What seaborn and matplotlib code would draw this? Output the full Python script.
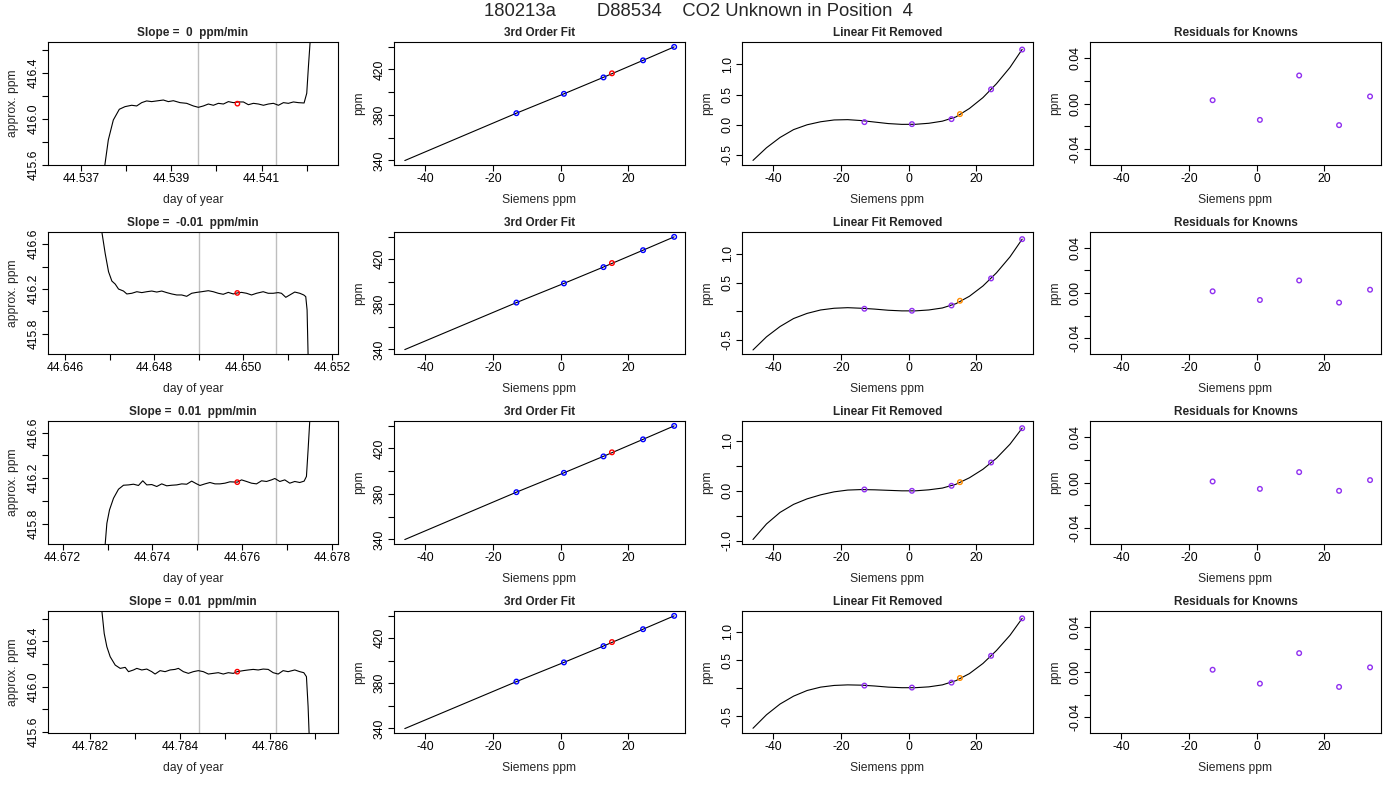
import matplotlib
matplotlib.use("Agg")
import matplotlib.pyplot as plt
import seaborn as sns
import pandas as pd

sns.set_style("ticks")
plt.rcParams['font.family'] = ['Liberation Sans', 'DejaVu Sans']
plt.rcParams.update({
    'axes.edgecolor': 'black',
    'axes.linewidth': 0.8,
    'axes.unicode_minus': False,
    'xtick.color': 'black',
    'ytick.color': 'black',
    'xtick.major.size': 4,
    'ytick.major.size': 4,
    'xtick.major.width': 0.8,
    'ytick.major.width': 0.8,
    'xtick.labelsize': 8.7,
    'ytick.labelsize': 8.7,
    'axes.labelsize': 8.7,
})

main_title = "180213a        D88534    CO2 Unknown in Position  4"
slope_titles = ["Slope =  0  ppm/min", "Slope =  -0.01  ppm/min",
                "Slope =  0.01  ppm/min", "Slope =  0.01  ppm/min"]

# ---- raw analyser traces (day of year, approx. ppm) ----
t1 = [44.537495, 44.537605, 44.537716, 44.537849, 44.537975, 44.538122, 44.538233,
      44.538344, 44.538454, 44.538565, 44.538713, 44.538824, 44.538934, 44.539045,
      44.539193, 44.539340, 44.539488, 44.539599, 44.539710, 44.539820, 44.539931,
      44.540042, 44.540153, 44.540263, 44.540374, 44.540485, 44.540596, 44.540706,
      44.540817, 44.540928, 44.541039, 44.541149, 44.541260, 44.541371, 44.541482,
      44.541592, 44.541703, 44.541814, 44.541939, 44.541998, 44.542035, 44.542072,
      44.542109]
v1 = [415.500, 415.816, 415.991, 416.085, 416.108, 416.120, 416.114,
      416.143, 416.158, 416.152, 416.160, 416.166, 416.152, 416.160,
      416.143, 416.137, 416.114, 416.102, 416.114, 416.131, 416.120,
      416.137, 416.131, 416.152, 416.143, 416.149, 416.149, 416.125,
      416.137, 416.131, 416.120, 416.131, 416.137, 416.120, 416.143,
      416.137, 416.149, 416.143, 416.140, 416.225, 416.458, 416.671,
      417.040]

t2 = [44.646785, 44.646822, 44.646897, 44.646972, 44.647047, 44.647122, 44.647196,
      44.647308, 44.647383, 44.647495, 44.647608, 44.647720, 44.647832, 44.647944,
      44.648056, 44.648168, 44.648280, 44.648393, 44.648505, 44.648617, 44.648729,
      44.648841, 44.648953, 44.649066, 44.649215, 44.649327, 44.649439, 44.649551,
      44.649664, 44.649776, 44.649866, 44.649963, 44.650075, 44.650187, 44.650299,
      44.650449, 44.650561, 44.650673, 44.650785, 44.650860, 44.650957, 44.651047,
      44.651159, 44.651271, 44.651361, 44.651406, 44.651436, 44.651458, 44.651473]
v2 = [416.811, 416.708, 416.516, 416.354, 416.271, 416.244, 416.200,
      416.182, 416.156, 416.162, 416.176, 416.168, 416.176, 416.182,
      416.173, 416.182, 416.168, 416.156, 416.147, 416.147, 416.135,
      416.162, 416.170, 416.176, 416.185, 416.176, 416.162, 416.153,
      416.170, 416.156, 416.165, 416.170, 416.162, 416.147, 416.162,
      416.176, 416.162, 416.162, 416.168, 416.162, 416.126, 416.147,
      416.173, 416.162, 416.147, 416.132, 416.014, 415.621, 415.512]

t3 = [44.672926, 44.672948, 44.672985, 44.673044, 44.673133, 44.673244, 44.673355,
      44.673467, 44.673578, 44.673689, 44.673785, 44.673874, 44.673985, 44.674096,
      44.674207, 44.674318, 44.674430, 44.674541, 44.674652, 44.674763, 44.674874,
      44.674985, 44.675059, 44.675170, 44.675281, 44.675393, 44.675504, 44.675615,
      44.675726, 44.675889, 44.675985, 44.676096, 44.676207, 44.676318, 44.676430,
      44.676541, 44.676652, 44.676726, 44.676837, 44.676948, 44.677059, 44.677170,
      44.677281, 44.677378, 44.677430, 44.677467, 44.677504, 44.677526]
v3 = [415.541, 415.623, 415.804, 415.922, 416.024, 416.103, 416.138,
      416.141, 416.147, 416.136, 416.177, 416.141, 416.144, 416.127,
      416.150, 416.133, 416.138, 416.141, 416.150, 416.147, 416.174,
      416.150, 416.136, 416.150, 416.162, 416.150, 416.150, 416.156,
      416.168, 416.165, 416.185, 416.171, 416.156, 416.150, 416.177,
      416.171, 416.185, 416.197, 416.171, 416.185, 416.156, 416.171,
      416.162, 416.174, 416.215, 416.449, 416.701, 416.889]

t4 = [44.782222, 44.782259, 44.782311, 44.782370, 44.782444, 44.782556, 44.782667,
      44.782778, 44.782852, 44.782963, 44.783037, 44.783148, 44.783259, 44.783370,
      44.783444, 44.783556, 44.783667, 44.783778, 44.783889, 44.783963, 44.784074,
      44.784185, 44.784296, 44.784407, 44.784519, 44.784630, 44.784741, 44.784852,
      44.784963, 44.785074, 44.785185, 44.785274, 44.785407, 44.785519, 44.785630,
      44.785741, 44.785852, 44.785963, 44.786074, 44.786185, 44.786296, 44.786407,
      44.786556, 44.786667, 44.786756, 44.786815, 44.786852, 44.786874, 44.786889]
v4 = [416.791, 416.668, 416.469, 416.352, 416.264, 416.190, 416.161,
      416.170, 416.132, 416.147, 416.161, 416.147, 416.155, 416.132,
      416.111, 416.141, 416.132, 416.147, 416.152, 416.161, 416.132,
      416.117, 416.132, 416.141, 416.132, 416.111, 416.117, 416.123,
      416.111, 416.123, 416.117, 416.132, 416.141, 416.147, 416.152,
      416.147, 416.155, 416.152, 416.123, 416.111, 416.141, 416.132,
      416.147, 416.132, 416.123, 416.088, 415.824, 415.590, 415.443]

# averaging window (gray lines) and unknown mean (red point)
window = [(44.539599, 44.541326), (44.648998, 44.650740),
          (44.675022, 44.676755), (44.784415, 44.786141)]
unk_t = [44.540463, 44.649866, 44.675889, 44.785274]
unk_v = [416.134, 416.165, 416.165, 416.132]

# ---- calibration: knowns ----
known_x = [-13.05, 1.0, 12.7, 24.4, 33.6]
known_y = [381.5, 398.5, 412.9, 427.9, 439.7]
unk_x = 15.2
unk_y = 416.5

# 3rd order fit curve (sampled)
fit_x = [-46.06, -13.05, 1.0, 12.7, 24.4, 33.6]
fit_y = [339.9, 381.5, 398.5, 413.0, 427.9, 439.7]

# linear fit removed
curve_x = [-46, -42, -38, -34, -30, -26, -22, -18, -14, -10, -6, -2,
           2, 6, 10, 14, 18, 22, 26, 30, 33.6]
curve_r1 = [-0.59, -0.38, -0.21, -0.08, 0.0, 0.05, 0.08, 0.085, 0.07, 0.045, 0.02,
            0.007, 0.008, 0.025, 0.06, 0.13, 0.27, 0.45, 0.68, 0.95, 1.25]
curve_r2 = [-0.68, -0.45, -0.27, -0.13, -0.04, 0.02, 0.05, 0.06, 0.05, 0.035, 0.015,
            0.004, 0.004, 0.02, 0.055, 0.13, 0.26, 0.44, 0.67, 0.95, 1.26]
curve_r3 = [-0.97, -0.66, -0.43, -0.27, -0.16, -0.08, -0.02, 0.015, 0.025, 0.02, 0.01,
            0.0, 0.0, 0.02, 0.055, 0.13, 0.26, 0.43, 0.65, 0.93, 1.25]
curve_r4 = [-0.71, -0.47, -0.28, -0.14, -0.04, 0.02, 0.05, 0.06, 0.055, 0.04, 0.02,
            0.01, 0.01, 0.025, 0.06, 0.135, 0.26, 0.44, 0.67, 0.94, 1.24]
detr_known = [[0.044, 0.011, 0.094, 0.587, 1.246],
              [0.041, 0.006, 0.099, 0.572, 1.260],
              [0.027, 0.000, 0.100, 0.565, 1.249],
              [0.047, 0.012, 0.100, 0.576, 1.241]]
detr_unk = [0.177, 0.181, 0.173, 0.182]

# residuals for knowns
resid_x = [-12.99, 0.99, 12.6, 24.4, 33.56]
resid_r1 = [0.0029, -0.0144, 0.0246, -0.0190, 0.0062]
resid_r2 = [0.0015, -0.0062, 0.0111, -0.0085, 0.0029]
resid_r3 = [0.0009, -0.0056, 0.0091, -0.0073, 0.0021]
resid_r4 = [0.0020, -0.0103, 0.0167, -0.0132, 0.0041]

# ---- axis limits / ticks ----
ts_xlim = [(44.53627, 44.54269), (44.645611, 44.652131),
           (44.671674, 44.678133), (44.781059, 44.787518)]
ts_ylim = [(415.597, 416.674), (415.621, 416.708),
           (415.623, 416.701), (415.590, 416.668)]
ts_xticks = [[44.537, 44.538, 44.539, 44.540, 44.541, 44.542],
             [44.646, 44.647, 44.648, 44.649, 44.650, 44.651, 44.652],
             [44.672, 44.673, 44.674, 44.675, 44.676, 44.677, 44.678],
             [44.782, 44.783, 44.784, 44.785, 44.786, 44.787]]
ts_xlabels = [['44.537', '', '44.539', '', '44.541', ''],
              ['44.646', '', '44.648', '', '44.650', '', '44.652'],
              ['44.672', '', '44.674', '', '44.676', '', '44.678'],
              ['44.782', '', '44.784', '', '44.786', '']]
ts_yticks = [[415.6, 415.8, 416.0, 416.2, 416.4, 416.6],
             [415.8, 416.0, 416.2, 416.4, 416.6],
             [415.8, 416.0, 416.2, 416.4, 416.6],
             [415.6, 415.8, 416.0, 416.2, 416.4, 416.6]]
ts_ylabels = [['415.6', '', '416.0', '', '416.4', ''],
              ['415.8', '', '416.2', '', '416.6'],
              ['415.8', '', '416.2', '', '416.6'],
              ['415.6', '', '416.0', '', '416.4', '']]

cal_xlim = (-49.25, 36.8)
cal_xticks = [-40, -20, 0, 20]
fit_ylim = (336.0, 444.0)
fit_yticks = [340, 360, 380, 400, 420, 440]
fit_ylabels = ['340', '', '380', '', '420', '']
detr_ylim = [(-0.666, 1.371), (-0.751, 1.385), (-1.06, 1.392), (-0.794, 1.371)]
detr_yticks = [[-0.5, 0.0, 0.5, 1.0], [-0.5, 0.0, 0.5, 1.0],
               [-1.0, -0.5, 0.0, 0.5, 1.0], [-0.5, 0.0, 0.5, 1.0]]
detr_ylabels = [['-0.5', '0.0', '0.5', '1.0'], ['-0.5', '', '0.5', '1.0'],
                ['-1.0', '', '0.0', '', '1.0'], ['-0.5', '', '0.5', '1.0']]
res_ylim = (-0.054, 0.054)
res_yticks = [-0.04, -0.02, 0.0, 0.02, 0.04]
res_ylabels = ['-0.04', '', '0.00', '', '0.04']

traces = [(t1, v1), (t2, v2), (t3, v3), (t4, v4)]
curves = [curve_r1, curve_r2, curve_r3, curve_r4]
resids = [resid_r1, resid_r2, resid_r3, resid_r4]

# pixel layout of the R page (left, right) per column, (top, bottom) per row
W, H = 1400, 800
cols = [(48, 338), (394, 685), (742, 1033), (1090, 1381)]
rows = [(42, 165), (232, 354), (421, 544), (611, 733)]

PURPLE = '#9030F0'
ORANGE = '#FF8C00'

fig = plt.figure(figsize=(14, 8), dpi=100)
fig.text(0.5 - 2 / W, 1 - 12 / H, main_title, ha='center', va='center', fontsize=13.3)


def make_ax(r, c):
    (l, rr), (t, b) = cols[c], rows[r]
    ax = fig.add_axes([l / W, 1 - b / H, (rr - l) / W, (b - t) / H])
    for s in ax.spines.values():
        s.set_visible(True)
        s.set_color('black')
    ax.tick_params(axis='x', pad=2)
    ax.tick_params(axis='y', pad=2)
    return ax


def set_yt(ax, ticks, labels):
    ax.set_yticks(ticks, labels, rotation=90, va='center')


def open_points(ax, x, y, color, s=11):
    sns.scatterplot(x=x, y=y, ax=ax, marker='o', s=s, facecolors='none',
                    edgecolor=color, linewidth=1.0, legend=False, zorder=3)


for i in range(4):
    # column 1: raw trace
    ax = make_ax(i, 0)
    df = pd.DataFrame({'t': traces[i][0], 'v': traces[i][1]})
    for w in window[i]:
        ax.axvline(w, color='#bebebe', lw=1.0, zorder=1)
    sns.lineplot(data=df, x='t', y='v', ax=ax, color='black', lw=0.8,
                 sort=False, estimator=None, zorder=2)
    open_points(ax, [unk_t[i]], [unk_v[i]], 'red', s=10)
    ax.set_xlim(ts_xlim[i])
    ax.set_ylim(ts_ylim[i])
    ax.set_xticks(ts_xticks[i], ts_xlabels[i])
    set_yt(ax, ts_yticks[i], ts_ylabels[i])
    ax.set_xlabel('day of year', labelpad=6)
    ax.set_ylabel('approx. ppm', labelpad=6)
    ax.set_title(slope_titles[i], fontsize=8.5, fontweight='bold', pad=4)

    # column 2: 3rd order fit
    ax = make_ax(i, 1)
    sns.lineplot(x=fit_x, y=fit_y, ax=ax, color='black', lw=0.8,
                 sort=False, estimator=None)
    open_points(ax, known_x, known_y, 'blue')
    open_points(ax, [unk_x], [unk_y], 'red')
    ax.set_xlim(cal_xlim)
    ax.set_ylim(fit_ylim)
    ax.set_xticks(cal_xticks)
    set_yt(ax, fit_yticks, fit_ylabels)
    ax.set_xlabel('Siemens ppm', labelpad=6)
    ax.set_ylabel('ppm', labelpad=6)
    ax.set_title('3rd Order Fit', fontsize=8.5, fontweight='bold', pad=4)

    # column 3: linear fit removed
    ax = make_ax(i, 2)
    sns.lineplot(x=curve_x, y=curves[i], ax=ax, color='black', lw=0.8,
                 sort=False, estimator=None)
    open_points(ax, known_x, detr_known[i], PURPLE)
    open_points(ax, [unk_x], [detr_unk[i]], ORANGE)
    ax.set_xlim(cal_xlim)
    ax.set_ylim(detr_ylim[i])
    ax.set_xticks(cal_xticks)
    set_yt(ax, detr_yticks[i], detr_ylabels[i])
    ax.set_xlabel('Siemens ppm', labelpad=6)
    ax.set_ylabel('ppm', labelpad=6)
    ax.set_title('Linear Fit Removed', fontsize=8.5, fontweight='bold', pad=4)

    # column 4: residuals
    ax = make_ax(i, 3)
    open_points(ax, resid_x, resids[i], PURPLE)
    ax.set_xlim(cal_xlim)
    ax.set_ylim(res_ylim)
    ax.set_xticks(cal_xticks)
    set_yt(ax, res_yticks, res_ylabels)
    ax.set_xlabel('Siemens ppm', labelpad=6)
    ax.set_ylabel('ppm', labelpad=6)
    ax.set_title('Residuals for Knowns', fontsize=8.5, fontweight='bold', pad=4)

fig.savefig('out.png', dpi=100)
